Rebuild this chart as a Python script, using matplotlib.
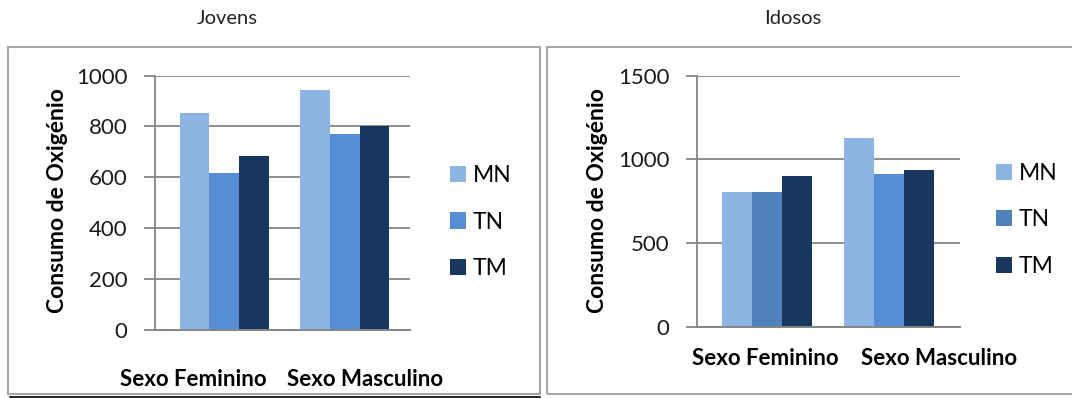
import numpy as np
import matplotlib
matplotlib.use("Agg")
import matplotlib.pyplot as plt
import matplotlib.transforms as mtransforms
from matplotlib.patches import Rectangle

plt.rcParams['font.family'] = ['Lato', 'DejaVu Sans']

# data
categories = ['Sexo Feminino', 'Sexo Masculino']
series = ['MN', 'TN', 'TM']
jovens = {'MN': [853, 945], 'TN': [619, 769], 'TM': [685, 803]}
idosos = {'MN': [806, 1130], 'TN': [806, 915], 'TM': [903, 935]}

col_mn = '#8EB4E3'
col_tn = '#558ED5'
col_tn2 = '#4F81BD'
col_tm = '#17375E'
grid_col = '#868686'

W, H = 1072, 398
fig = plt.figure(figsize=(W / 100, H / 100), dpi=100)

def px(x0, y_top, x1, y_bot):
    return [x0 / W, 1 - y_bot / H, (x1 - x0) / W, (y_bot - y_top) / H]

# outer frames of the two excel charts
fig.patches.append(Rectangle((8 / W, 1 - 394 / H), 532 / W, 347 / H, transform=fig.transFigure,
                             fill=False, edgecolor='#a6a6a6', lw=1.5))
fig.patches.append(Rectangle((547 / W, 1 - 394 / H), 540 / W, 347 / H, transform=fig.transFigure,
                             fill=False, edgecolor='#a6a6a6', lw=1.5))
fig.add_artist(plt.Line2D([10 / W, 540 / W], [1 - 397 / H, 1 - 397 / H], color='black', lw=1.2))


def panel(rect, data, ymax, step, xlim, tn_colors, title, title_x, leg_xy, ylab_x,
          xpad, xoffs):
    ax = fig.add_axes(rect)
    x = np.arange(len(categories))
    w = 0.245
    cols = {'MN': [col_mn] * 2, 'TN': tn_colors, 'TM': [col_tm] * 2}
    handles = []
    for i, s in enumerate(series):
        b = ax.bar(x + (i - 1) * w, data[s], w, color=cols[s], label=s, zorder=3)
        handles.append(b)
    ax.set_ylim(0, ymax)
    ax.set_xlim(*xlim)
    ax.set_yticks(np.arange(0, ymax + 1, step))
    ax.yaxis.grid(True, color=grid_col, lw=1.3, zorder=0)
    for sp in ['top', 'right']:
        ax.spines[sp].set_visible(False)
    for sp in ['left', 'bottom']:
        ax.spines[sp].set_color(grid_col)
        ax.spines[sp].set_linewidth(1.3)
    ax.tick_params(axis='y', length=8, color=grid_col, width=1.3, labelsize=16, pad=12,
                   labelcolor='#1a1a1a')
    ax.tick_params(axis='x', length=0, labelsize=16, pad=xpad)
    ax.set_xticks(x)
    ax.set_xticklabels(categories, fontweight='bold')
    for lab, dx in zip(ax.get_xticklabels(), xoffs):
        lab.set_transform(lab.get_transform() +
                          mtransforms.ScaledTranslation(dx / 100, 0, fig.dpi_scale_trans))
    # extend bottom axis line like the gridlines
    ax.axhline(0, color=grid_col, lw=1.3, zorder=4, clip_on=False)
    fig.text(ylab_x / W, 1 - 201 / H, 'Consumo de Oxigénio', rotation=90, ha='center',
             va='center', fontsize=16.5, fontweight='bold')
    fig.text(title_x / W, 1 - 19 / H, title, ha='center', va='center', fontsize=14.5,
             color='#222222')
    fig.legend(handles=handles, labels=series, loc='center left',
               bbox_to_anchor=(leg_xy[0] / W, 1 - leg_xy[1] / H), frameon=False,
               fontsize=16.5, borderpad=0, borderaxespad=0, labelspacing=1.1,
               handlelength=0.7, handleheight=0.7, handletextpad=0.3)
    return ax


panel(px(155, 75.6, 410, 330), jovens, 1000, 200, (-0.574, 1.541),
      [col_tn, col_tn], 'Jovens', 227, (450, 222), 57, 28, (-31, 20))
panel(px(697, 75.6, 960, 327), idosos, 1500, 500, (-0.571, 1.576),
      [col_tn2, col_tn], 'Idosos', 793, (996, 220), 597, 15, (-2, 50))

fig.savefig('out.png', dpi=100)
